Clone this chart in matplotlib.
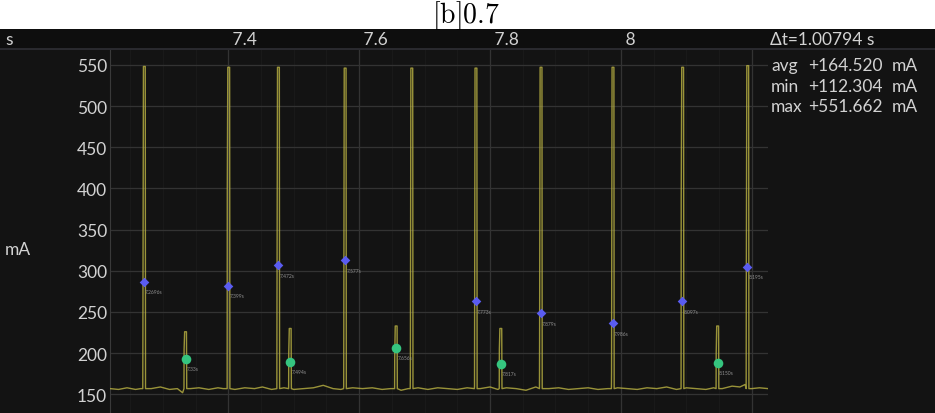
import matplotlib.pyplot as plt
from matplotlib.ticker import MultipleLocator
from matplotlib.transforms import blended_transform_factory
from matplotlib.patches import Rectangle

plt.rcParams['font.family'] = ['Lato', 'DejaVu Sans']
plt.rcParams['mathtext.fontset'] = 'cm'

# baseline current readings (s, mA)
base_t = [7.219, 7.232, 7.245, 7.258, 7.266, 7.282, 7.296, 7.31, 7.322, 7.33, 7.342, 7.355,
          7.37, 7.384, 7.392, 7.41, 7.425, 7.44, 7.452, 7.466, 7.485, 7.5, 7.515, 7.53,
          7.545, 7.56, 7.572, 7.59, 7.605, 7.62, 7.635, 7.648, 7.664, 7.675, 7.69, 7.705,
          7.72, 7.735, 7.75, 7.765, 7.785, 7.8, 7.812, 7.825, 7.84, 7.855, 7.87, 7.89,
          7.905, 7.92, 7.935, 7.95, 7.965, 7.98, 7.995, 8.01, 8.025, 8.04, 8.055, 8.07,
          8.085, 8.1, 8.115, 8.13, 8.142, 8.155, 8.17, 8.182, 8.19, 8.2, 8.212, 8.225]
base_v = [157, 156, 158, 156, 157, 157, 159, 156, 157, 152, 157, 158,
          156, 158, 157, 156, 158, 157, 159, 156, 158, 156, 157, 158,
          161, 157, 156, 158, 157, 158, 156, 157, 155, 157, 158, 156,
          158, 157, 156, 158, 157, 159, 156, 158, 157, 155, 159, 157,
          158, 156, 157, 158, 156, 157, 158, 157, 156, 158, 157, 159,
          156, 158, 157, 156, 158, 157, 160, 159, 162, 157, 158, 157]

# current pulses: time, shoulder, peak
spike_t = [7.2715, 7.3345, 7.4005, 7.4765, 7.4945, 7.5785, 7.6565, 7.6804,
           7.7785, 7.8165, 7.8780, 7.9880, 8.0945, 8.1480, 8.1940]
spike_shoulder = [217, 205, 400, 263, 200, 160, 195, 172, 160, 205, 215, 177, 385, 200, 274]
spike_peak = [548, 226, 547, 547, 230, 546, 233, 546, 546, 230, 547, 547, 547, 233, 549]

# markers
blue_t = [7.2705, 7.4000, 7.4760, 7.5782, 7.7782, 7.8774, 7.9873, 8.0942, 8.1934]
blue_v = [287, 282, 306.5, 312.6, 263, 248.4, 236.3, 263, 305]
blue_lbl = ['7.2696s', '7.399s', '7.472s', '7.577s', '7.773s', '7.879s', '7.986s', '8.097s', '8.195s']
green_t = [7.3345, 7.4945, 7.6565, 7.8165, 8.1480]
green_v = [192.8, 189, 206, 187, 188]
green_lbl = ['7.33s', '7.494s', '7.656s', '7.817s', '8.150s']

x_ticks = [7.4, 7.6, 7.8, 8.0, 8.2]
x_tick_lbl = ['7.4', '7.6', '7.8', '8', '']
y_ticks = [150, 200, 250, 300, 350, 400, 450, 500, 550]
stats = [('avg', '+164.520', 'mA'), ('min', '+112.304', 'mA'), ('max', '+551.662', 'mA')]

# build trace
pts = list(zip(base_t, base_v))
for t, sh, pk in zip(spike_t, spike_shoulder, spike_peak):
    pts += [(t - 0.0024, 157), (t - 0.0022, sh), (t - 0.0014, pk),
            (t + 0.0014, pk), (t + 0.0018, 157)]
pts.sort()
trace_t = [p[0] for p in pts]
trace_v = [p[1] for p in pts]

W, H = 935, 414
fig = plt.figure(figsize=(W / 100, H / 100), dpi=100, facecolor='white')

def fx(x):
    return x / W

def fy(y):
    return 1 - y / H

fig.patches.append(Rectangle((0, 0), 1, fy(30), transform=fig.transFigure,
                             facecolor='#131313', edgecolor='none', zorder=-2))
fig.patches.append(Rectangle((0, fy(50)), 1, fy(30) - fy(50), transform=fig.transFigure,
                             facecolor='#0e0e0e', edgecolor='none', zorder=-2))
fig.lines.append(plt.Line2D([0, 1], [fy(50), fy(50)], transform=fig.transFigure,
                            color='#2f2f35', lw=1.2, zorder=-1))

fig.text(fx(466), fy(16), r'$[\mathrm{b}]0.7$', ha='center', va='center', fontsize=20,
         color='black')

ax = fig.add_axes([fx(110), 0, fx(768) - fx(110), fy(51)])
ax.set_zorder(2)
ax.set_facecolor('#131313')
ax.set_xlim(7.219, 8.225)
ax.set_ylim(127.4, 568)

ax.plot(trace_t, trace_v, color='#bcb443', lw=1.0, alpha=0.8, zorder=3)
ax.scatter(blue_t, blue_v, marker='D', s=24, color='#5a5cf0', zorder=5, linewidths=0)
ax.scatter(green_t, green_v, marker='o', s=48, color='#35c57f', zorder=5, linewidths=0)
for t, v, s in zip(blue_t + green_t, blue_v + green_v, blue_lbl + green_lbl):
    ax.annotate(s, (t, v), xytext=(1, -7), textcoords='offset points',
                fontsize=3.6, color='#909090', ha='left', va='center', zorder=6)

ax.set_xticks(x_ticks)
ax.xaxis.set_minor_locator(MultipleLocator(0.05))
ax.set_yticks(y_ticks)
ax.grid(which='major', color='#333333', lw=0.9)
ax.xaxis.grid(which='minor', color='#191919', lw=0.8)
ax.set_axisbelow(True)
ax.tick_params(axis='x', which='both', length=0, labelbottom=False)
ax.tick_params(axis='y', length=0, pad=2, labelsize=12.5, labelcolor='#d2d2d2')
for sp in ['top', 'right', 'bottom']:
    ax.spines[sp].set_visible(False)
ax.spines['left'].set_color('#3a3a3a')

tr = blended_transform_factory(ax.transData, fig.transFigure)
for t, s in zip(x_ticks, x_tick_lbl):
    fig.text(t, fy(40), ' ' + s, transform=tr, ha='left', va='center',
             fontsize=12.5, color='#d2d2d2')
fig.text(fx(5), fy(40), 's', ha='left', va='center', fontsize=12.5, color='#d2d2d2')
fig.text(fx(770), fy(40), 'Δt=1.00794 s', ha='left', va='center', fontsize=12.5, color='#d2d2d2')
fig.text(fx(5), fy(250), 'mA', ha='left', va='center', fontsize=12.5, color='#d2d2d2')

for i, (a, b, c) in enumerate(stats):
    y = fy(66 + 20.5 * i)
    fig.text(fx(771), y, a, ha='left', va='center', fontsize=12.5, color='#d2d2d2')
    fig.text(fx(808), y, b, ha='left', va='center', fontsize=12.5, color='#d2d2d2')
    fig.text(fx(892), y, c, ha='left', va='center', fontsize=12.5, color='#d2d2d2')

fig.savefig('out.png', dpi=100, facecolor='white')
